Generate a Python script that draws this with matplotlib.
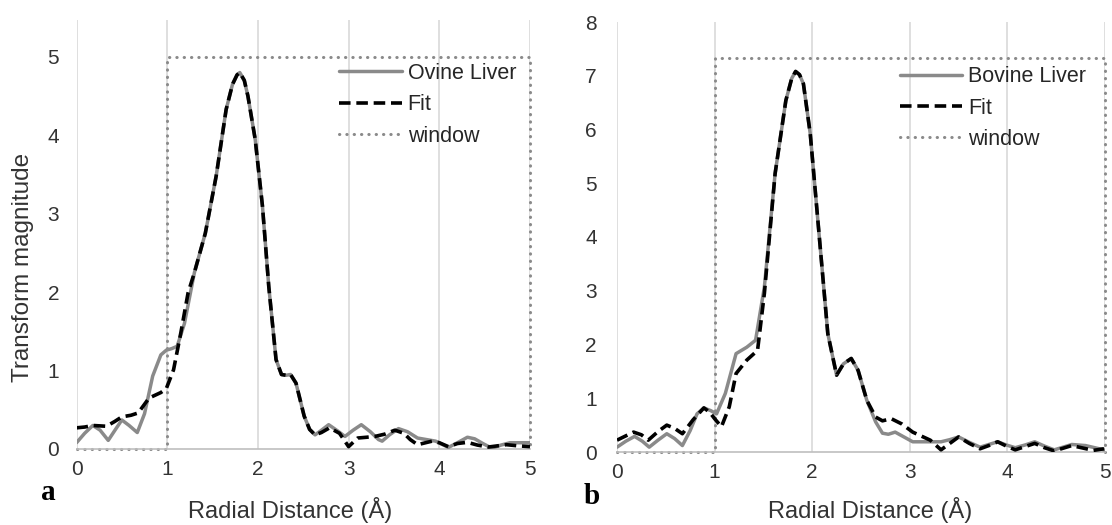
import matplotlib
matplotlib.use("Agg")
import matplotlib.pyplot as plt

# ---------------- data ----------------
ovine_x = [0.00, 0.09, 0.18, 0.26, 0.35, 0.43, 0.50, 0.58, 0.67, 0.75, 0.84, 0.93, 0.99, 1.05, 1.11,
           1.19, 1.30, 1.42, 1.54, 1.65, 1.72, 1.77, 1.80, 1.85, 1.89, 1.97, 2.05, 2.12, 2.20,
           2.26, 2.31, 2.36, 2.42, 2.51, 2.57, 2.63, 2.69, 2.78, 2.88, 2.96, 3.05, 3.14, 3.24,
           3.33, 3.37, 3.45, 3.55, 3.65, 3.76, 3.86, 3.96, 4.10, 4.20, 4.31, 4.39, 4.48, 4.58,
           4.68, 4.78, 4.90, 5.00]
ovine_y = [0.08, 0.20, 0.30, 0.24, 0.11, 0.25, 0.37, 0.30, 0.21, 0.45, 0.93, 1.20, 1.26, 1.28, 1.31,
           1.60, 2.25, 2.75, 3.48, 4.33, 4.65, 4.77, 4.80, 4.70, 4.50, 3.95, 3.10, 2.07, 1.14,
           0.95, 0.94, 0.95, 0.84, 0.42, 0.25, 0.18, 0.23, 0.31, 0.23, 0.16, 0.24, 0.31, 0.22,
           0.12, 0.10, 0.18, 0.26, 0.22, 0.14, 0.12, 0.10, 0.02, 0.08, 0.15, 0.13, 0.07, 0.01,
           0.05, 0.08, 0.08, 0.08]

fit_a_x = [0.00, 0.09, 0.18, 0.33, 0.42, 0.50, 0.60, 0.68, 0.80, 0.93, 0.99, 1.07, 1.15, 1.23, 1.30,
           1.42, 1.54, 1.65, 1.72, 1.77, 1.80, 1.85, 1.89, 1.97, 2.05, 2.12, 2.20, 2.26, 2.31,
           2.36, 2.42, 2.51, 2.57, 2.63, 2.70, 2.79, 2.90, 3.00, 3.10, 3.20, 3.29, 3.40, 3.51,
           3.61, 3.68, 3.76, 3.92, 4.00, 4.10, 4.20, 4.31, 4.42, 4.54, 4.64, 4.74, 4.87, 5.00]
fit_a_y = [0.27, 0.28, 0.30, 0.29, 0.35, 0.41, 0.43, 0.46, 0.65, 0.72, 0.77, 1.01, 1.48, 1.99, 2.25,
           2.75, 3.48, 4.33, 4.65, 4.77, 4.80, 4.70, 4.50, 3.95, 3.10, 2.07, 1.14, 0.95, 0.94,
           0.95, 0.84, 0.42, 0.25, 0.18, 0.21, 0.27, 0.20, 0.03, 0.14, 0.15, 0.16, 0.19, 0.24,
           0.20, 0.12, 0.055, 0.10, 0.08, 0.03, 0.07, 0.085, 0.05, 0.025, 0.04, 0.055, 0.04, 0.03]

bovine_x = [0.00, 0.09, 0.18, 0.26, 0.33, 0.42, 0.51, 0.59, 0.67, 0.75, 0.82, 0.89, 0.96, 1.02, 1.11,
            1.22, 1.33, 1.42, 1.51, 1.62, 1.73, 1.79, 1.83, 1.87, 1.91, 1.98, 2.07, 2.16, 2.25,
            2.32, 2.40, 2.47, 2.56, 2.65, 2.72, 2.78, 2.85, 2.94, 3.03, 3.21, 3.32, 3.41, 3.50,
            3.61, 3.72, 3.81, 3.90, 3.99, 4.08, 4.18, 4.28, 4.38, 4.48, 4.57, 4.66, 4.80, 4.99]
bovine_y = [0.09, 0.20, 0.29, 0.20, 0.09, 0.22, 0.34, 0.25, 0.12, 0.40, 0.71, 0.82, 0.77, 0.71, 1.09,
            1.83, 1.95, 2.08, 3.07, 5.18, 6.54, 6.95, 7.08, 7.02, 6.85, 5.92, 4.06, 2.20, 1.43,
            1.64, 1.74, 1.52, 0.96, 0.56, 0.35, 0.33, 0.37, 0.28, 0.19, 0.19, 0.19, 0.23, 0.28,
            0.18, 0.09, 0.14, 0.19, 0.13, 0.08, 0.13, 0.19, 0.11, 0.04, 0.09, 0.14, 0.12, 0.04]

fit_b_x = [0.00, 0.09, 0.17, 0.25, 0.32, 0.42, 0.51, 0.59, 0.67, 0.78, 0.89, 0.95, 1.00, 1.07, 1.15,
           1.22, 1.33, 1.44, 1.51, 1.62, 1.73, 1.79, 1.83, 1.87, 1.91, 1.98, 2.07, 2.16, 2.25,
           2.32, 2.40, 2.47, 2.56, 2.65, 2.72, 2.81, 2.92, 3.03, 3.21, 3.32, 3.41, 3.50, 3.61,
           3.72, 3.81, 3.90, 3.99, 4.08, 4.18, 4.28, 4.38, 4.48, 4.57, 4.66, 4.88, 4.99]
fit_b_y = [0.22, 0.30, 0.37, 0.32, 0.22, 0.38, 0.50, 0.44, 0.34, 0.60, 0.82, 0.74, 0.62, 0.47, 0.84,
           1.46, 1.71, 1.89, 2.95, 5.18, 6.54, 6.95, 7.08, 7.02, 6.85, 5.92, 4.06, 2.20, 1.43,
           1.64, 1.74, 1.52, 0.96, 0.65, 0.58, 0.62, 0.52, 0.37, 0.22, 0.04, 0.16, 0.28, 0.16,
           0.06, 0.12, 0.19, 0.11, 0.04, 0.10, 0.16, 0.08, 0.02, 0.07, 0.12, 0.03, 0.06]

window_x = [0, 1, 1, 5, 5]
window_a_y = [0, 0, 5.0, 5.0, 0]
window_b_y = [0, 0, 7.33, 7.33, 0]

x_ticks = [0, 1, 2, 3, 4, 5]
a_yticks = [0, 1, 2, 3, 4, 5]
b_yticks = [0, 1, 2, 3, 4, 5, 6, 7, 8]

# ---------------- drawing ----------------
W, H = 1112, 525
fig = plt.figure(figsize=(W / 100, H / 100), dpi=100)
fig.patch.set_facecolor("white")

FONT = ["Liberation Sans", "DejaVu Sans"]
TXT = "#333333"
GRAY = "#8a8a8a"
GRID = "#d9d9d9"


def fbox(l, r, t, b):
    return [l / W, 1 - b / H, (r - l) / W, (b - t) / H]


def style_axes(ax, ylim, yticks, label, data_x, data_y, fx, fy, wy, legx, legy, ypad):
    ax.set_xlim(0, 5)
    ax.set_ylim(*ylim)
    for s in ["top", "right", "left"]:
        ax.spines[s].set_visible(False)
    ax.spines["bottom"].set_color("#bfbfbf")
    ax.spines["bottom"].set_linewidth(1.2)
    ax.set_xticks(x_ticks)
    ax.set_yticks(yticks)
    ax.tick_params(axis="both", length=0, labelsize=15, labelcolor=TXT)
    ax.tick_params(axis="y", pad=ypad)
    ax.tick_params(axis="x", pad=8)
    for t in ax.get_xticklabels() + ax.get_yticklabels():
        t.set_family(FONT)
    ax.grid(axis="x", color=GRID, linewidth=1.2)
    ax.set_axisbelow(True)
    ax.plot(data_x, data_y, color=GRAY, lw=2.5, label=label, solid_capstyle="round",
            solid_joinstyle="round", zorder=3)
    ax.plot(fx, fy, color="black", lw=2.6, ls=(0, (3.2, 1.6)), label="Fit", zorder=4)
    ax.plot(window_x, wy, color=GRAY, lw=2.2, ls=(0, (0.1, 2.3)), dash_capstyle="round",
            label="window", zorder=2, clip_on=False)
    leg = ax.legend(loc="upper left", bbox_to_anchor=(legx, legy), frameon=False,
                    prop={"family": FONT, "size": 15.5}, handlelength=2.9,
                    handletextpad=0.28, labelspacing=0.48, borderpad=0, borderaxespad=0)
    for t in leg.get_texts():
        t.set_color("#262626")


ax1 = fig.add_axes(fbox(76.5, 530, 20, 449))
style_axes(ax1, (0, 5.47), a_yticks, "Ovine Liver", ovine_x, ovine_y,
           fit_a_x, fit_a_y, window_a_y, 0.579, 0.90, 12.5)

ax2 = fig.add_axes(fbox(617, 1105, 22, 452))
style_axes(ax2, (0, 8), b_yticks, "Bovine Liver", bovine_x, bovine_y,
           fit_b_x, fit_b_y, window_b_y, 0.580, 0.897, 14.5)

fig.text(23 / W, 1 - 267 / H, "Transform magnitude", rotation=90, ha="center", va="center",
         fontsize=17.5, color=TXT, family=FONT)
fig.text(290 / W, 1 - 510 / H, "Radial Distance (Å)", ha="center", va="center",
         fontsize=17, color=TXT, family=FONT)
fig.text(870 / W, 1 - 510 / H, "Radial Distance (Å)", ha="center", va="center",
         fontsize=17, color=TXT, family=FONT)
fig.text(48 / W, 1 - 493 / H, "a", ha="center", va="center", fontsize=21,
         fontweight="bold", family=["Liberation Serif", "DejaVu Serif"], color="black")
fig.text(592 / W, 1 - 497 / H, "b", ha="center", va="center", fontsize=21,
         fontweight="bold", family=["Liberation Serif", "DejaVu Serif"], color="black")

fig.savefig("out.png", dpi=100, facecolor="white")
